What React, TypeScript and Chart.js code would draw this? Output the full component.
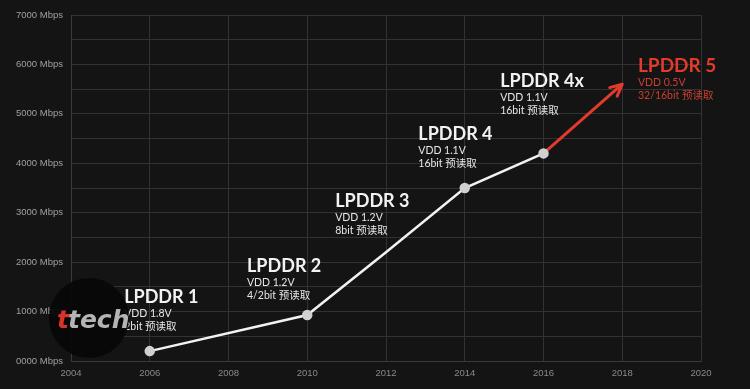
import React, { useEffect, useRef } from "react";
import { Chart, registerables } from "chart.js";

Chart.register(...registerables);

const years = [2006, 2010, 2012, 2014, 2016];
const speeds = [200, 930, 2200, 3500, 4200];
const markerShown = [true, true, false, true, true];
const futureYears = [2016, 2018];
const futureSpeeds = [4200, 5600];
const genNames = ["LPDDR 1", "LPDDR 2", "LPDDR 3", "LPDDR 4", "LPDDR 4x", "LPDDR 5"];
const genVoltages = ["VDD 1.8V", "VDD 1.2V", "VDD 1.2V", "VDD 1.1V", "VDD 1.1V", "VDD 0.5V"];
const genPrefetch = ["2bit 预读取", "4/2bit 预读取", "8bit 预读取", "16bit 预读取", "16bit 预读取", "32/16bit 预读取"];
// label anchors in data coordinates (year, Mbps) for title baseline
const labelAnchorX = [2005.35, 2008.47, 2010.71, 2012.82, 2014.9, 2018.4];
const labelAnchorY = [1175, 1800, 3120, 4470, 5550, 5850];
const yTicks = [0, 1000, 2000, 3000, 4000, 5000, 6000, 7000];

const WHITE = "#f2f2f2";
const RED = "#e23a2b";

const annotationPlugin = {
  id: "lpddrLabels",
  afterDatasetsDraw(chart: any) {
    const { ctx, scales } = chart;
    const xs = scales.x;
    const ys = scales.y;
    ctx.save();
    const x1 = xs.getPixelForValue(futureYears[0]);
    const y1 = ys.getPixelForValue(futureSpeeds[0]);
    const x2 = xs.getPixelForValue(futureYears[1]);
    const y2 = ys.getPixelForValue(futureSpeeds[1]);
    const ang = Math.atan2(y2 - y1, x2 - x1);
    const len = 13;
    const spread = 0.45;
    ctx.strokeStyle = RED;
    ctx.lineWidth = 3;
    ctx.lineCap = "round";
    ctx.lineJoin = "round";
    ctx.beginPath();
    ctx.moveTo(x2 - len * Math.cos(ang - spread), y2 - len * Math.sin(ang - spread));
    ctx.lineTo(x2, y2);
    ctx.lineTo(x2 - len * Math.cos(ang + spread), y2 - len * Math.sin(ang + spread));
    ctx.stroke();

    ctx.textAlign = "left";
    ctx.textBaseline = "alphabetic";
    for (let i = 0; i < genNames.length; i++) {
      const px = xs.getPixelForValue(labelAnchorX[i]);
      const py = ys.getPixelForValue(labelAnchorY[i]);
      const isRed = i === genNames.length - 1;
      ctx.fillStyle = isRed ? RED : WHITE;
      ctx.font = `bold ${isRed ? 19 : 18}px Lato, "Noto Sans", sans-serif`;
      ctx.fillText(genNames[i], px, py);
      ctx.fillStyle = isRed ? "#c8402f" : "#e6e6e6";
      ctx.font = `10.5px Lato, "Noto Sans CJK SC", sans-serif`;
      ctx.fillText(genVoltages[i], px, py + 14);
      ctx.fillText(genPrefetch[i], px, py + 27);
    }
    ctx.restore();
  },
};

const watermarkPlugin = {
  id: "watermark",
  afterDraw(chart: any) {
    const { ctx } = chart;
    ctx.save();
    ctx.fillStyle = "rgba(8,8,8,0.93)";
    ctx.beginPath();
    ctx.arc(89, 318, 40, 0, Math.PI * 2);
    ctx.fill();
    ctx.font = 'italic bold 25px "DejaVu Sans", sans-serif';
    ctx.textBaseline = "alphabetic";
    ctx.fillStyle = "#d8322a";
    ctx.fillText("t", 57, 328);
    const w = ctx.measureText("t").width;
    ctx.fillStyle = "#b4b4b4";
    ctx.fillText("tech", 57 + w - 1, 328);
    ctx.restore();
  },
};

const bgPlugin = {
  id: "bg",
  beforeDraw(chart: any) {
    const { ctx, width, height } = chart;
    ctx.save();
    ctx.fillStyle = "#141414";
    ctx.fillRect(0, 0, width, height);
    ctx.restore();
  },
};

export default function App() {
  const ref = useRef<HTMLCanvasElement>(null);
  useEffect(() => {
    document.body.style.margin = "0";
    const canvas = ref.current!;
    const chart = new Chart(canvas, {
      type: "line",
      data: {
        datasets: [
          {
            data: years.map((x, i) => ({ x, y: speeds[i] })),
            borderColor: WHITE,
            borderWidth: 2.5,
            pointRadius: markerShown.map((m) => (m ? 4 : 0)),
            pointBackgroundColor: "#d0d0d0",
            pointBorderColor: "#d0d0d0",
            tension: 0,
          },
          {
            data: futureYears.map((x, i) => ({ x, y: futureSpeeds[i] })),
            borderColor: RED,
            borderWidth: 3,
            pointRadius: 0,
            tension: 0,
          },
        ],
      },
      options: {
        animation: false,
        responsive: false,
        maintainAspectRatio: false,
        layout: { padding: { left: 0, right: 49, top: 15, bottom: 0 } },
        plugins: { legend: { display: false }, tooltip: { enabled: false } },
        scales: {
          x: {
            type: "linear",
            min: 2004,
            max: 2020,
            grid: { color: "#323232", lineWidth: 1, drawTicks: false },
            border: { color: "#3a3a3a" },
            ticks: {
              stepSize: 2,
              color: "#8a8a8a",
              font: { size: 9.5, family: "Liberation Sans, Arial, sans-serif" },
              padding: 7,
              callback: (v: any) => String(v),
            },
            afterFit: (s: any) => {
              s.height = 28;
            },
          },
          y: {
            min: 0,
            max: 7000,
            grid: { color: "#323232", lineWidth: 1, drawTicks: false },
            border: { color: "#3a3a3a" },
            ticks: {
              stepSize: 500,
              color: "#a0a0a0",
              font: { size: 9.5, family: "Liberation Sans, Arial, sans-serif" },
              padding: 8,
              callback: (v: any) =>
                yTicks.includes(Number(v)) ? String(v).padStart(4, "0") + " Mbps" : "",
            },
            afterFit: (s: any) => {
              s.width = 71;
            },
          },
        },
      },
      plugins: [bgPlugin, annotationPlugin, watermarkPlugin],
    });
    return () => chart.destroy();
  }, []);
  return (
    <div style={{ position: "absolute", left: 0, top: 0, width: 750, height: 389 }}>
      <canvas ref={ref} width={750} height={389} style={{ display: "block" }} />
    </div>
  );
}
